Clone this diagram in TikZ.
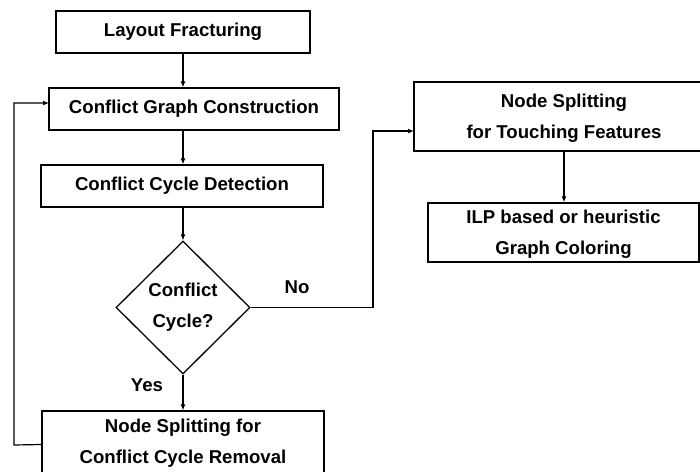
\documentclass[tikz,border=0pt]{standalone}
\usepackage{fontspec}
\setmainfont{Liberation Sans}
\usetikzlibrary{shapes.geometric,arrows.meta}
\begin{document}
\begin{tikzpicture}[x=1pt,y=-1pt,
  font=\bfseries\fontsize{18.6}{31}\selectfont,
  stepbox/.style={draw,line width=1.3pt,rectangle,inner sep=0pt,align=center},
  decide/.style={draw,line width=1.3pt,diamond,inner sep=0pt,minimum width=134pt,minimum height=133pt},
  flow/.style={line width=1.2pt,-{Latex[length=6pt,width=5pt]}},
  tag/.style={inner sep=0pt}]
\useasboundingbox (0,0) rectangle (700,471);
\clip (0,0) rectangle (700,471);

% main column
\node[stepbox,minimum width=254pt,minimum height=42pt] (lf)  at (183,32)    {Layout Fracturing};
\node[stepbox,minimum width=290pt,minimum height=42pt] (cgc) at (194,109)   {Conflict Graph Construction};
\node[stepbox,minimum width=282pt,minimum height=42pt] (ccd) at (182,186)   {Conflict Cycle Detection};
\node[decide] (dia) at (183,307.5) {};
\node[tag,align=center] (diatext) at (183,307.5) {Conflict\\Cycle?};
\node[stepbox,minimum width=282pt,minimum height=67pt] (nsc) at (183,444.5) {};
\node[tag,align=center] (nsctext) at (183,443.5) {Node Splitting for\\Conflict Cycle Removal};

% right column
\node[stepbox,minimum width=300pt,minimum height=69pt] (nst) at (564,116.5) {};
\node[tag,align=center] (nsttext) at (564,118.5) {Node Splitting\\for Touching Features};
\node[stepbox,minimum width=271pt,minimum height=59pt] (ilp) at (563.5,232.5) {};
\node[tag,align=center] (ilptext) at (563.5,234) {ILP based or heuristic\\Graph Coloring};

% branch labels
\node[tag] (no)  at (297,287) {No};
\node[tag] (yes) at (147,385) {Yes};

% connector bends
\coordinate (nobend1) at (373,307.5);
\coordinate (nobend2) at (373,131);
\coordinate (nsin)    at (414,131);
\coordinate (fbbend1) at (14,445);
\coordinate (fbbend2) at (14,103);
\coordinate (cgcin)   at (49,103);

% connectors
\draw[flow] (lf.south) -- (lf.south |- cgc.north);
\draw[flow] (lf.south |- cgc.south) -- (lf.south |- ccd.north);
\draw[flow] (lf.south |- ccd.south) -- (dia.north);
\draw[flow] (dia.south) -- (nsc.north);
\draw[flow] (dia.east) -- (nobend1) -- (nobend2) -- (nsin);
\draw[flow] (nsc.west) -- (fbbend1) -- (fbbend2) -- (cgcin);
\draw[flow] (nst.south) -- (nst.south |- ilp.north);
\end{tikzpicture}
\end{document}
